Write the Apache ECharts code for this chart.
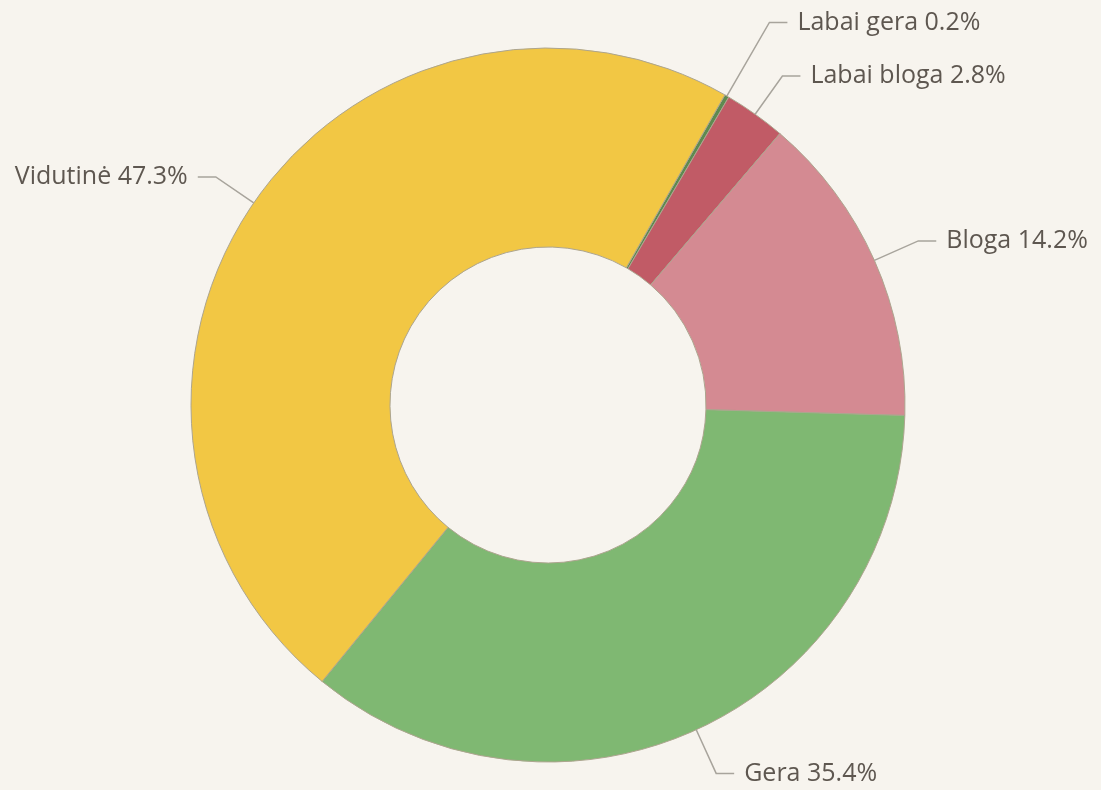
<!DOCTYPE html>
<html><head><meta charset="utf-8">
<script src="https://cdn.jsdelivr.net/npm/echarts@6/dist/echarts.min.js"></script>
<style>html,body{margin:0;padding:0;background:#F7F4EE;}#c{width:1101px;height:790px;}</style>
</head><body><div id="c"></div>
<script>
const categories = ['Labai gera', 'Labai bloga', 'Bloga', 'Gera', 'Vidutinė'];
const values = [0.2, 2.8, 14.2, 35.4, 47.3];
const colors = ['#5E8A50', '#C15B66', '#D48A92', '#7FB872', '#F2C744'];
const lineLengths = [85, 47, 48, 48, 46];

const chart = echarts.init(document.getElementById('c'), null, {renderer: 'canvas'});
chart.setOption({
  backgroundColor: '#F7F4EE',
  animation: false,
  series: [{
    type: 'pie',
    center: [548, 405],
    radius: [158, 357],
    startAngle: 60.3,
    clockwise: true,
    minAngle: 0,
    avoidLabelOverlap: true,
    data: categories.map((n, i) => ({
      name: n, value: values[i],
      itemStyle: {color: colors[i]},
      labelLine: {length: lineLengths[i]}
    })),
    itemStyle: {borderColor: '#ADA58F', borderWidth: 1},
    label: {
      formatter: p => p.name + ' ' + p.value.toFixed(1) + '%',
      color: '#5E5750',
      fontFamily: 'Open Sans',
      fontSize: 25,
      distanceToLabelLine: 10
    },
    labelLine: {length: 48, length2: 18, lineStyle: {color: '#A8A49C', width: 1.5}},
    emphasis: {disabled: true}
  }]
});
</script></body></html>
